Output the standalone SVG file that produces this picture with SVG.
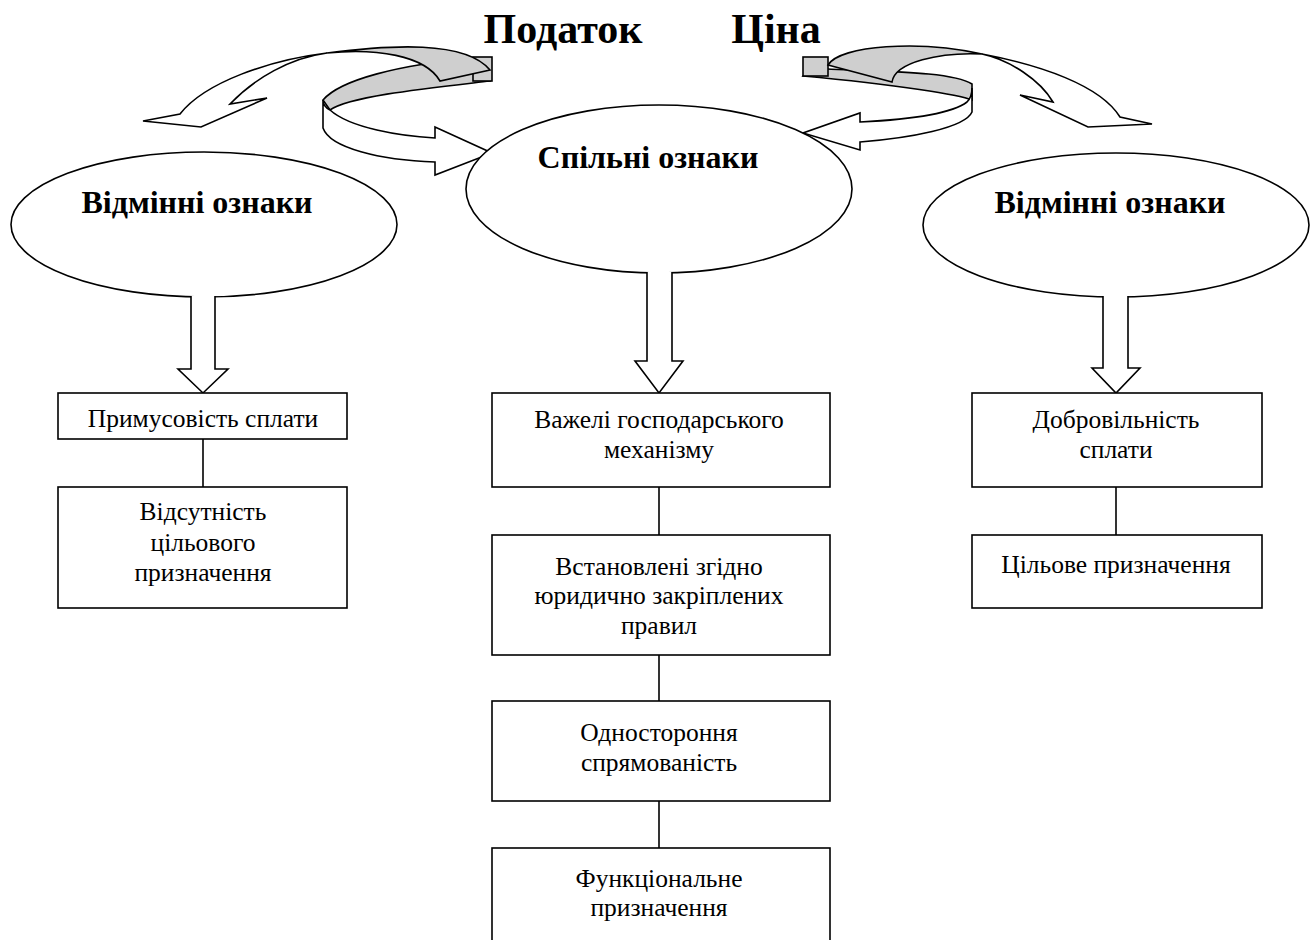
<svg xmlns="http://www.w3.org/2000/svg" width="1316" height="940" viewBox="0 0 1316 940">
<style>
.s{stroke:#000;stroke-width:1.6;stroke-linejoin:miter}
.w{fill:#fff}
.g{fill:#cfcfcf}
.t{font-family:"Liberation Serif","Times New Roman",serif;font-size:25.5px;fill:#000;text-anchor:middle}
.b{font-family:"Liberation Serif","Times New Roman",serif;font-weight:bold;font-size:32px;fill:#000;text-anchor:middle}
.h{font-family:"Liberation Serif","Times New Roman",serif;font-weight:bold;font-size:42px;fill:#000;text-anchor:middle}
</style>
<rect width="1316" height="940" fill="#fff"/>

<g id="title">
<text class="h" x="563" y="43">Податок</text>
<text class="h" x="776" y="43">Ціна</text>
</g>

<g id="curved-arrows-left">
<path class="s g" d="M323,100 C340,80 400,64 473,59 L490,81 C430,88 350,96 330,110 Z"/>
<rect class="s g" x="473" y="57" width="19" height="24"/>
<path class="s g" d="M327,53 C390,45 465,40 490,70 L440,81 C425,55 375,48 327,53 Z"/>
<path class="s w" d="M327,53 C270,60 205,82 180,114 L143,121 L201,127 L267,98 L230,104 C255,78 290,58 327,53 Z"/>
<path class="s w" d="M330,110 C350,128 400,136 435,138 L435,127 L492,153 L435,175 L435,162 C380,160 330,148 323,128 L323,100 C323,105 326,108 330,110 Z"/>
</g>

<g id="curved-arrows-right">
<path class="s g" d="M810,68 C870,72 950,70 972,84 L972,100 C960,95 900,85 803,76 Z"/>
<rect class="s g" x="803" y="57" width="25" height="19"/>
<path class="s g" d="M982,54 C920,40 840,45 828,65 L892,82 C895,62 940,52 982,54 Z"/>
<path class="s w" d="M982,54 C1040,65 1100,85 1120,117 L1152,124 L1088,127 L1020,95 L1053,102 C1040,80 1010,60 982,54 Z"/>
<path class="s w" d="M967,102 C950,115 900,120 860,122 L860,113 L803,133 L860,150 L860,142 C910,138 965,128 972,112 L972,88 C972,95 970,99 967,102 Z"/>
</g>

<g id="node-left-ellipse">
<ellipse class="s w" cx="204" cy="224.5" rx="193" ry="72.5"/>
<text class="b" x="197" y="213">Відмінні ознаки</text>
</g>
<g id="node-center-ellipse">
<ellipse class="s w" cx="659" cy="189" rx="193" ry="84"/>
<text class="b" x="648" y="168">Спільні ознаки</text>
</g>
<g id="node-right-ellipse">
<ellipse class="s w" cx="1116" cy="225" rx="193" ry="72"/>
<text class="b" x="1110" y="213">Відмінні ознаки</text>
</g>

<g id="connectors">
<path class="s w" d="M191,296 L191,369 L178,369 L203,393 L228,369 L215,369 L215,296"/>
<path class="s w" d="M647,272 L647,361 L635,361 L659,393 L683,361 L672,361 L672,272"/>
<path class="s w" d="M1103,296 L1103,368 L1092,368 L1116,393 L1140,368 L1128,368 L1128,296"/>
<line class="s" x1="203" y1="439" x2="203" y2="487"/>
<line class="s" x1="659" y1="487" x2="659" y2="535"/>
<line class="s" x1="659" y1="655" x2="659" y2="701"/>
<line class="s" x1="659" y1="801" x2="659" y2="848"/>
<line class="s" x1="1116" y1="487" x2="1116" y2="535"/>
</g>

<g id="node-l1">
<rect class="s w" x="58" y="393" width="289" height="46"/>
<text class="t" x="203" y="427">Примусовість сплати</text>
</g>
<g id="node-l2">
<rect class="s w" x="58" y="487" width="289" height="121"/>
<text class="t" x="203" y="520">Відсутність</text>
<text class="t" x="203" y="551">цільового</text>
<text class="t" x="203" y="581">призначення</text>
</g>

<g id="node-c1">
<rect class="s w" x="492" y="393" width="338" height="94"/>
<text class="t" x="659" y="428">Важелі господарського</text>
<text class="t" x="659" y="458">механізму</text>
</g>
<g id="node-c2">
<rect class="s w" x="492" y="535" width="338" height="120"/>
<text class="t" x="659" y="575">Встановлені згідно</text>
<text class="t" x="659" y="604">юридично закріплених</text>
<text class="t" x="659" y="634">правил</text>
</g>
<g id="node-c3">
<rect class="s w" x="492" y="701" width="338" height="100"/>
<text class="t" x="659" y="741">Одностороння</text>
<text class="t" x="659" y="771">спрямованість</text>
</g>
<g id="node-c4">
<rect class="s w" x="492" y="848" width="338" height="100"/>
<text class="t" x="659" y="887">Функціональне</text>
<text class="t" x="659" y="916">призначення</text>
</g>

<g id="node-r1">
<rect class="s w" x="972" y="393" width="290" height="94"/>
<text class="t" x="1116" y="428">Добровільність</text>
<text class="t" x="1116" y="458">сплати</text>
</g>
<g id="node-r2">
<rect class="s w" x="972" y="535" width="290" height="73"/>
<text class="t" x="1116" y="573">Цільове призначення</text>
</g>
</svg>
